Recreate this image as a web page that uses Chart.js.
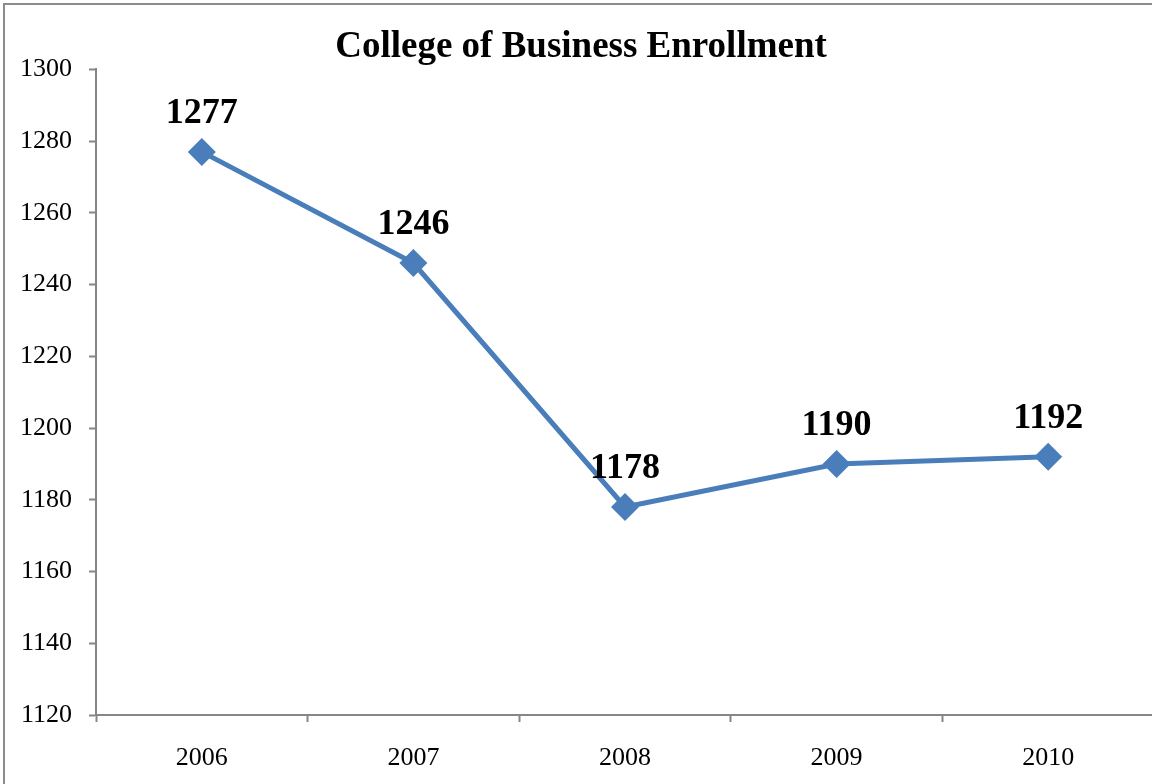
<!DOCTYPE html>
<html>
<head>
<meta charset="utf-8">
<script src="https://cdn.jsdelivr.net/npm/chart.js@4.4.1/dist/chart.umd.min.js"></script>
<style>
  html, body { margin: 0; padding: 0; background: #fff; overflow: hidden; }
  canvas { display: block; }
</style>
</head>
<body>
<canvas id="enrollment-chart" width="1168" height="790"></canvas>
<script>
// data
const years = ["2006", "2007", "2008", "2009", "2010"];
const enrollment = [1277, 1246, 1178, 1190, 1192];
const yTicks = [1120, 1140, 1160, 1180, 1200, 1220, 1240, 1260, 1280, 1300];

const axisGray = "#868686";
const lineBlue = "#4a7ebb";
const serif = "'Liberation Serif', 'Times New Roman', serif";

// outer frame (only the left and top edges are visible)
const framePlugin = {
  id: "frame",
  beforeDraw(chart) {
    const ctx = chart.ctx;
    ctx.save();
    ctx.strokeStyle = "#8c8c8c";
    ctx.lineWidth = 2;
    ctx.strokeRect(4, 4, chart.width + 20, chart.height + 20);
    ctx.restore();
  },
};

// values written above each point
const valueLabels = {
  id: "valueLabels",
  afterDatasetsDraw(chart) {
    const ctx = chart.ctx;
    const meta = chart.getDatasetMeta(0);
    ctx.save();
    ctx.font = "bold 36px " + serif;
    ctx.fillStyle = "#000";
    ctx.textAlign = "center";
    ctx.textBaseline = "alphabetic";
    meta.data.forEach((pt, i) => {
      ctx.fillText(String(chart.data.datasets[0].data[i]), pt.x, pt.y - 29);
    });
    ctx.restore();
  },
};

const ctx = document.getElementById("enrollment-chart").getContext("2d");
const chart = new Chart(ctx, {
  type: "line",
  data: {
    labels: years,
    datasets: [
      {
        label: "Enrollment",
        data: enrollment,
        borderColor: lineBlue,
        backgroundColor: lineBlue,
        borderWidth: 5,
        pointStyle: "rectRot",
        pointRadius: 14,
        pointBorderWidth: 0,
        tension: 0,
      },
    ],
  },
  options: {
    responsive: false,
    animation: false,
    devicePixelRatio: 1,
    layout: {
      padding: { top: 0, left: 0, right: 6, bottom: 0 },
    },
    plugins: {
      legend: { display: false },
      tooltip: { enabled: false },
      title: {
        display: true,
        text: "College of Business Enrollment",
        color: "#000",
        font: { family: serif, size: 37, weight: "bold" },
        padding: { top: 25, bottom: 0 },
      },
    },
    scales: {
      x: {
        offset: true,
        grid: {
          offset: true,
          drawOnChartArea: false,
          drawTicks: true,
          tickLength: 7,
          tickWidth: 2,
          tickColor: axisGray,
        },
        border: { color: axisGray, width: 2 },
        ticks: {
          color: "#000",
          padding: 21,
          font: { family: serif, size: 26 },
        },
        afterFit(scale) {
          scale.height = 75;
        },
      },
      y: {
        min: 1120,
        max: 1300,
        afterBuildTicks(scale) {
          scale.ticks = yTicks.map((v) => ({ value: v }));
        },
        grid: {
          drawOnChartArea: false,
          drawTicks: true,
          tickLength: 7,
          tickWidth: 2,
          tickColor: axisGray,
        },
        border: { color: axisGray, width: 2 },
        ticks: {
          color: "#000",
          padding: 17,
          font: { family: serif, size: 26 },
          callback: (value) => String(value),
        },
        afterFit(scale) {
          scale.width = 96;
        },
      },
    },
  },
  plugins: [framePlugin, valueLabels],
});
</script>
</body>
</html>
